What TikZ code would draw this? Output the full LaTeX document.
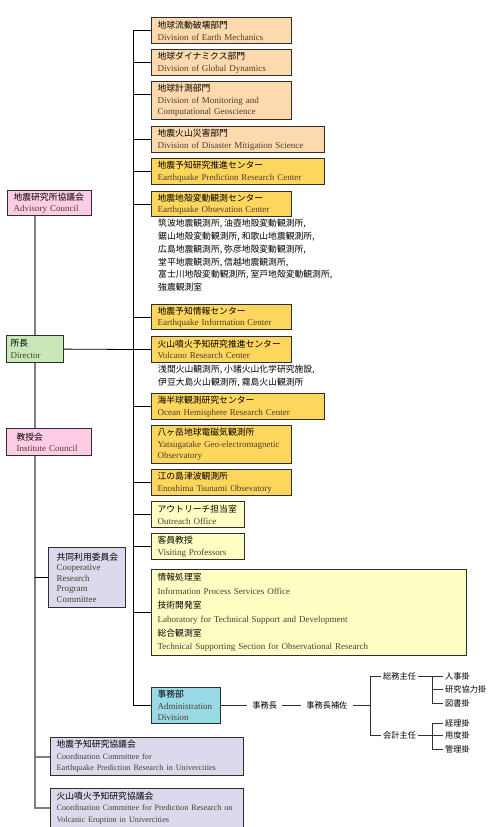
\documentclass[tikz,border=0pt]{standalone}
\usepackage{fontspec}
\setmainfont{Liberation Serif}
\newfontfamily\jpfont{Noto Sans CJK JP}
\usetikzlibrary{positioning}
\definecolor{divfill}{HTML}{FDD9AE}
\definecolor{ctrfill}{HTML}{FDD65E}
\definecolor{offfill}{HTML}{FFFFC4}
\definecolor{pinkfill}{HTML}{FFCCE6}
\definecolor{dirfill}{HTML}{C8E8B8}
\definecolor{lavfill}{HTML}{DADAEC}
\definecolor{admfill}{HTML}{9ADAE6}
\definecolor{boxline}{HTML}{2E2E2E}
\definecolor{stemgray}{HTML}{7F7F7F}
\definecolor{entext}{HTML}{4E3E2C}
\newcommand{\en}[2][9]{{\rmfamily\fontsize{#1}{11.5}\selectfont\color{entext}#2}}
\begin{document}
\begin{tikzpicture}[x=1pt,y=-1pt,
  box/.style={draw=boxline,line width=1.2pt,anchor=north west,align=left,
    inner xsep=6pt,inner ysep=0pt,font=\jpfont\fontsize{8.8}{11.5}\selectfont},
  divbox/.style={box,fill=divfill},
  ctrbox/.style={box,fill=ctrfill},
  offbox/.style={box,fill=offfill},
  pinkbox/.style={box,fill=pinkfill},
  lavbox/.style={box,fill=lavfill},
  plain/.style={inner xsep=2pt,inner ysep=1pt,font=\jpfont\fontsize{8.2}{10}\selectfont},
  list/.style={anchor=north west,align=left,inner sep=0pt,font=\jpfont\fontsize{8.8}{12.8}\selectfont},
  link/.style={draw=black,line width=0.8pt},
  stem/.style={draw=stemgray,line width=2pt},
  thinlink/.style={draw=black!80,line width=0.7pt}]

\useasboundingbox (0,0) rectangle (501,827);

% divisions
\node[divbox,text width=128pt,minimum height=26pt] (d1) at (151,17) {地球流動破壊部門\\\en{Division of Earth Mechanics}};
\node[divbox,text width=128pt,minimum height=26pt] (d2) at (151,49) {地球ダイナミクス部門\\\en{Division of Global Dynamics}};
\node[divbox,text width=128pt,minimum height=38pt] (d3) at (151,81) {地球計測部門\\\en{Division of Monitoring and}\\\en{Computational Geoscience}};
\node[divbox,text width=161pt,minimum height=26pt] (d4) at (151,126) {地震火山災害部門\\\en{Division of Disaster Mitigation Science}};

% centers
\node[ctrbox,text width=161pt,minimum height=26pt] (c1) at (151,158) {地震予知研究推進センター\\\en{Earthquake Prediction Research Center}};
\node[ctrbox,text width=128pt,minimum height=25pt] (c2) at (151,191) {地震地殻変動観測センター\\\en{Earthquake Obsevation Center}};
\node[list] (st1) at (158,219) {筑波地震観測所, 油壺地殻変動観測所,\\鋸山地殻変動観測所, 和歌山地震観測所,\\広島地震観測所, 弥彦地殻変動観測所,\\堂平地震観測所, 信越地震観測所,\\富士川地殻変動観測所, 室戸地殻変動観測所,\\強震観測室};
\node[ctrbox,text width=128pt,minimum height=25pt] (c3) at (151,304) {地震予知情報センター\\\en{Earthquake Information Center}};
\node[ctrbox,text width=128pt,minimum height=26pt] (c4) at (151,336) {火山噴火予知研究推進センター\\\en{Volcano Research Center}};
\node[list] (st2) at (158,365) {浅間火山観測所, 小諸火山化学研究施設,\\伊豆大島火山観測所, 霧島火山観測所};
\node[ctrbox,text width=161pt,minimum height=26pt] (c5) at (151,393) {海半球観測研究センター\\\en{Ocean Hemisphere Research Center}};
\node[ctrbox,text width=128pt,minimum height=38pt] (c6) at (151,425) {八ヶ岳地球電磁気観測所\\\en{Yatsugatake Geo-electromagnetic}\\\en{Observatory}};
\node[ctrbox,text width=128pt,minimum height=26pt] (c7) at (151,469) {江の島津波観測所\\\en{Enoshima Tsunami Obsevatory}};

% offices
\node[offbox,text width=81pt,minimum height=26pt] (o1) at (151,501) {アウトリーチ担当室\\\en{Outreach Office}};
\node[offbox,text width=81pt,minimum height=26pt] (o2) at (151,533) {客員教授\\\en{Visiting Professors}};
\node[offbox,text width=303pt,minimum height=86pt,font=\jpfont\fontsize{8.8}{13.8}\selectfont] (o3) at (151,569) {情報処理室\\\en{Information Process Services Office}\\技術開発室\\\en{Laboratory for Technical Support and Development}\\総合観測室\\\en{Technical Supporting Section for Observational Research}};
\node[box,fill=admfill,text width=57pt,minimum height=36pt,font=\jpfont\fontsize{8.8}{11.3}\selectfont] (adm) at (151,687) {事務部\\\en{Administration}\\\en{Division}};

% left column
\node[pinkbox,text width=72pt,minimum height=25pt] (adv) at (7,190) {地震研究所協議会\\\en{Advisory Council}};
\node[box,fill=dirfill,inner xsep=4pt,text width=49pt,minimum height=27pt] (dir) at (6,335) {所長\\\en{Director}};
\node[pinkbox,inner xsep=10pt,text width=65pt,minimum height=27pt] (ic) at (6,428) {教授会\\\en{Institute Council}};
\node[lavbox,inner xsep=8pt,text width=61pt,minimum height=60pt,font=\jpfont\fontsize{8.8}{10.5}\selectfont] (coop) at (48,547) {共同利用委員会\\\en{Cooperative}\\\en{Research}\\\en{Program}\\\en{Committee}};
\node[lavbox,text width=181pt,minimum height=38pt] (k1) at (50,737) {地震予知研究協議会\\\en[8.2]{Coordination Committee for}\\\en[8.2]{Earthquake Prediction Research in Univercities}};
\node[lavbox,text width=181pt,minimum height=39pt] (k2) at (50,788) {火山噴火予知研究協議会\\\en[8.2]{Coordination Committee for Prediction Research on}\\\en[8.2]{Volcanic Eruption in Univercities}};

% administration staff
\node[plain,inner xsep=5pt,right=26pt of adm] (jimucho) {事務長};
\node[plain,inner xsep=5pt,right=19pt of jimucho] (hosa) {事務長補佐};
\node[plain,anchor=west] (somu) at (381,676) {総務主任};
\node[plain,anchor=west] (kaikei) at (381,735) {会計主任};
\node[plain,anchor=west] (jinji) at (443,676) {人事掛};
\node[plain,anchor=west] (kenkyu) at (443,689) {研究協力掛};
\node[plain,anchor=west] (tosho) at (443,703) {図書掛};
\node[plain,anchor=west] (keiri) at (443,723) {経理掛};
\node[plain,anchor=west] (yodo) at (443,735) {用度掛};
\node[plain,anchor=west] (kanri) at (443,749) {管理掛};

% trunk on the right
\coordinate (tr) at (133,0);
\coordinate (d3b) at ([yshift=6pt]d3.west);
\draw[link] (d1.west) -- (d1.west -| tr) -- (tr |- adm.west) -- (adm.west);
\foreach \n in {d2,d4,c1,c2,c3,c5,c7,o1,o2,o3}
  \draw[link] (\n.west -| tr) -- (\n.west);
\draw[link] (d3b -| tr) -- (d3b);
\draw[link] (dir.east) -- (c4.west);

% stem on the left
\draw[stem] (adv.south -| dir.north) -- (dir.north);
\draw[stem] (dir.south) -- (ic.north -| dir.south);
\draw[stem] (ic.south -| dir.south) -- (k2.west -| dir.south) -- (k2.west);
\draw[stem] (k1.west -| dir.south) -- (k1.west);
\draw[link] (coop.west -| dir.south) -- (coop.west);

% administration
\coordinate (b1) at (370,705);
\coordinate (b2) at (432,0);
\draw[thinlink] (adm.east) -- (jimucho.west);
\draw[thinlink] (jimucho.east) -- (hosa.west);
\draw[thinlink] (hosa.east) -- (hosa.east -| b1);
\draw[thinlink] (somu.west) -| (b1 |- kaikei.west) -- (kaikei.west);
\draw[thinlink] (somu.east) -- (jinji.west);
\draw[thinlink] (jinji.west -| b2) |- (tosho.west);
\draw[thinlink] (kenkyu.west -| b2) -- (kenkyu.west);
\draw[thinlink] (kaikei.east) -- (yodo.west);
\draw[thinlink] (keiri.west) -- (keiri.west -| b2) |- (kanri.west);
\end{tikzpicture}
\end{document}
